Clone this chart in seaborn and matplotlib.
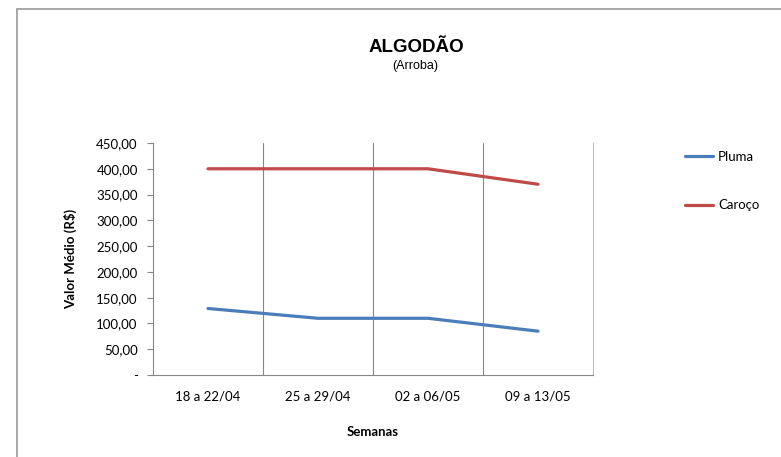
import matplotlib
matplotlib.use("Agg")
import matplotlib.pyplot as plt
import seaborn as sns
import pandas as pd
from matplotlib.ticker import FuncFormatter, FixedLocator

semanas = ["18 a 22/04", "25 a 29/04", "02 a 06/05", "09 a 13/05"]
pluma = [129, 110, 110, 85]
caroco = [400, 400, 400, 370]
series_names = ["Pluma", "Caroço"]
cores = ["#4A7EBB", "#BE4B48"]

df = pd.DataFrame({
    "pos": list(range(len(semanas))) * 2,
    "valor": pluma + caroco,
    "serie": [series_names[0]] * len(semanas) + [series_names[1]] * len(semanas),
})

sns.set_style("white")
plt.rcParams["font.family"] = ["Lato", "DejaVu Sans"]
plt.rcParams["text.color"] = "black"
plt.rcParams["axes.labelcolor"] = "black"
plt.rcParams["xtick.color"] = "black"
plt.rcParams["ytick.color"] = "black"

fig = plt.figure(figsize=(7.81, 4.57), dpi=100)
ax = fig.add_axes([153 / 781, 1 - 375 / 457, 440 / 781, 232 / 457])

sns.lineplot(data=df, x="pos", y="valor", hue="serie", palette=cores,
             linewidth=2.3, ax=ax, legend=False, sort=False)

ax.set_xlim(-0.5, len(semanas) - 0.5)
ax.set_ylim(0, 450)
ax.set_yticks(range(0, 451, 50))
ax.yaxis.set_major_formatter(FuncFormatter(
    lambda v, p: "-" if v == 0 else f"{v:,.2f}".replace(",", "X").replace(".", ",").replace("X", ".")))

ax.set_xticks(range(len(semanas)))
ax.set_xticklabels(semanas)
ax.xaxis.set_minor_locator(FixedLocator([i - 0.5 for i in range(len(semanas) + 1)]))
ax.tick_params(axis="x", which="major", length=0, pad=11, labelsize=9.5, labelcolor="black")
ax.tick_params(axis="x", which="minor", length=5, width=0.8, color="#868686", direction="out")
ax.tick_params(axis="y", length=4, width=0.8, color="#868686", direction="out", labelsize=9.5,
               pad=7, labelcolor="black")
ax.tick_params(axis="both", bottom=True, left=True)

for b in [0.5, 1.5, 2.5]:
    ax.axvline(b, color="#868686", linewidth=0.8, zorder=0)

for s in ["left", "bottom"]:
    ax.spines[s].set_color("#868686")
    ax.spines[s].set_linewidth(0.8)
ax.spines["top"].set_visible(False)
ax.spines["right"].set_color("#BFBFBF")
ax.spines["right"].set_linewidth(0.8)

ax.set_xlabel("Semanas", fontsize=9.5, fontweight="bold", labelpad=17)
ax.set_ylabel("Valor Médio (R$)", fontsize=9.5, fontweight="bold", labelpad=14)

fig.text(416 / 781, 1 - 48 / 457, "ALGODÃO", ha="center", va="center",
         fontsize=13.5, fontweight="bold", family=["Liberation Sans", "DejaVu Sans"])
fig.text(415 / 781, 1 - 66 / 457, "(Arroba)", ha="center", va="center",
         fontsize=9, family=["Liberation Sans", "DejaVu Sans"])

handles = [plt.Line2D([], [], color=c, linewidth=2.3) for c in cores]
fig.legend(handles, series_names, loc="upper left", bbox_to_anchor=(685 / 781, 1 - 151 / 457),
           frameon=False, fontsize=9.5, handlelength=2.1, labelspacing=2.75, handletextpad=0.4,
           borderaxespad=0, borderpad=0)

border = plt.Rectangle((17 / 781, -0.1), 1.2, 1 - 9 / 457 + 0.1, transform=fig.transFigure,
                       fill=False, edgecolor="#9A9A9A", linewidth=1.2)
fig.patches.append(border)

fig.savefig("out.png", dpi=100)
